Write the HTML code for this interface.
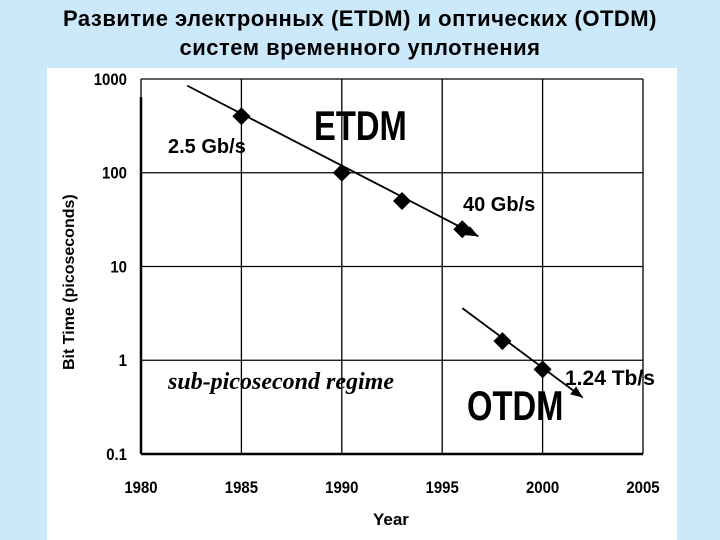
<!DOCTYPE html>
<html><head><meta charset="utf-8"><style>
body{margin:0;width:720px;height:540px;background:#cce9fb;overflow:hidden;font-family:"Liberation Sans",sans-serif}
#title{position:absolute;left:0;top:4px;width:720px;text-align:center;font-weight:bold;font-size:22px;line-height:29px;color:#000;letter-spacing:0.5px}
</style></head><body>
<div id="title">Развитие электронных (ETDM) и оптических (OTDM)<br>систем временного уплотнения</div>
<svg id="c" width="720" height="540" style="position:absolute;left:0;top:0"></svg>
<script>
const xTicks=[1980,1985,1990,1995,2000,2005];
const yTicks=[1000,100,10,1,0.1];
const yTickLabels=["1000","100","10","1","0.1"];
const etdmYears=[1985,1990,1993,1996];
const etdmValues=[400,100,50,25];
const etdmLine=[[1982.3,850],[1996.8,21]];
const otdmYears=[1998,2000];
const otdmValues=[1.6,0.8];
const otdmLine=[[1996,3.6],[2002,0.4]];
const NS="http://www.w3.org/2000/svg";
const svg=document.getElementById('c');
const X=v=>141+(v-1980)*(502/25);
const Y=v=>79+(3-Math.log10(v))*93.75;
function mk(t,a,p){const e=document.createElementNS(NS,t);for(const k in a)e.setAttribute(k,a[k]);(p||svg).appendChild(e);return e;}
let bg=mk('rect',{x:47,y:68,width:630,height:472,fill:'#fff'});


xTicks.forEach(t=>{let l=mk('line',{x1:X(t),x2:X(t),y1:Y(1000),y2:Y(0.1),stroke:'#000','stroke-width':1.3});


let s=mk('text',{x:X(t),y:493,'text-anchor':'middle','font-size':17,'font-weight':'bold',transform:`translate(${X(t)*0.12},0) scale(0.88,1)`});s.textContent=t;

});
yTicks.forEach((t,i)=>{let l=mk('line',{x1:X(1980),x2:X(2005),y1:Y(t),y2:Y(t),stroke:'#000','stroke-width':1.3});


let s=mk('text',{x:127,y:Y(t)+6,'text-anchor':'end','font-size':17,'font-weight':'bold',transform:`translate(${127*0.12},0) scale(0.88,1)`});s.textContent=yTickLabels[i];

});
let ax=mk('line',{x1:X(1980),x2:X(2005),y1:Y(0.1),y2:Y(0.1),stroke:'#000','stroke-width':2.5});


let ay=mk('line',{x1:X(1980),x2:X(1980),y1:Y(1000)+18,y2:Y(0.1),stroke:'#000','stroke-width':2.5});


function series(line,ys,vs,name){
 let l=mk('line',{x1:X(line[0][0]),y1:Y(line[0][1]),x2:X(line[1][0]),y2:Y(line[1][1]),stroke:'#000','stroke-width':1.8});
 
 
 const ex=X(line[1][0]),ey=Y(line[1][1]),dx=ex-X(line[0][0]),dy=ey-Y(line[0][1]),L=Math.hypot(dx,dy),ux=dx/L,uy=dy/L;
 let a=mk('polygon',{points:`${ex},${ey} ${ex-12*ux-5*uy},${ey-12*uy+5*ux} ${ex-12*ux+5*uy},${ey-12*uy-5*ux}`,fill:'#000'});
 
 
 ys.forEach((yr,i)=>{const cx=X(yr),cy=Y(vs[i]);
  let p=mk('polygon',{points:`${cx},${cy-9} ${cx+9},${cy} ${cx},${cy+9} ${cx-9},${cy}`,fill:'#000'});
  
  });
}
series(etdmLine,etdmYears,etdmValues,'etdm');
series(otdmLine,otdmYears,otdmValues,'otdm');
function txt(s,x,y,size,name,extra){let t=mk('text',Object.assign({x:x,y:y,'font-size':size,'font-weight':'bold'},extra||{}));t.textContent=s;

return t;}
txt('2.5 Gb/s',168,153,20,'label-2-5-gbs');
txt('ETDM',0,0,42,'label-etdm',{transform:'translate(314,140) scale(0.78,1)'});
txt('40 Gb/s',463,211,20,'label-40-gbs');
txt('1.24 Tb/s',565,385,21,'label-1-24-tbs');
txt('OTDM',0,0,42,'label-otdm',{transform:'translate(467,420) scale(0.78,1)'});
txt('sub-picosecond regime',168,389,24,'label-sub-picosecond',{'font-family':'Liberation Serif','font-style':'italic'});
txt('Year',373,525,17,'x-axis-title');
txt('Bit Time (picoseconds)',0,0,16,'y-axis-title',{transform:'translate(74,370) rotate(-90)'});
</script>
</body></html>
